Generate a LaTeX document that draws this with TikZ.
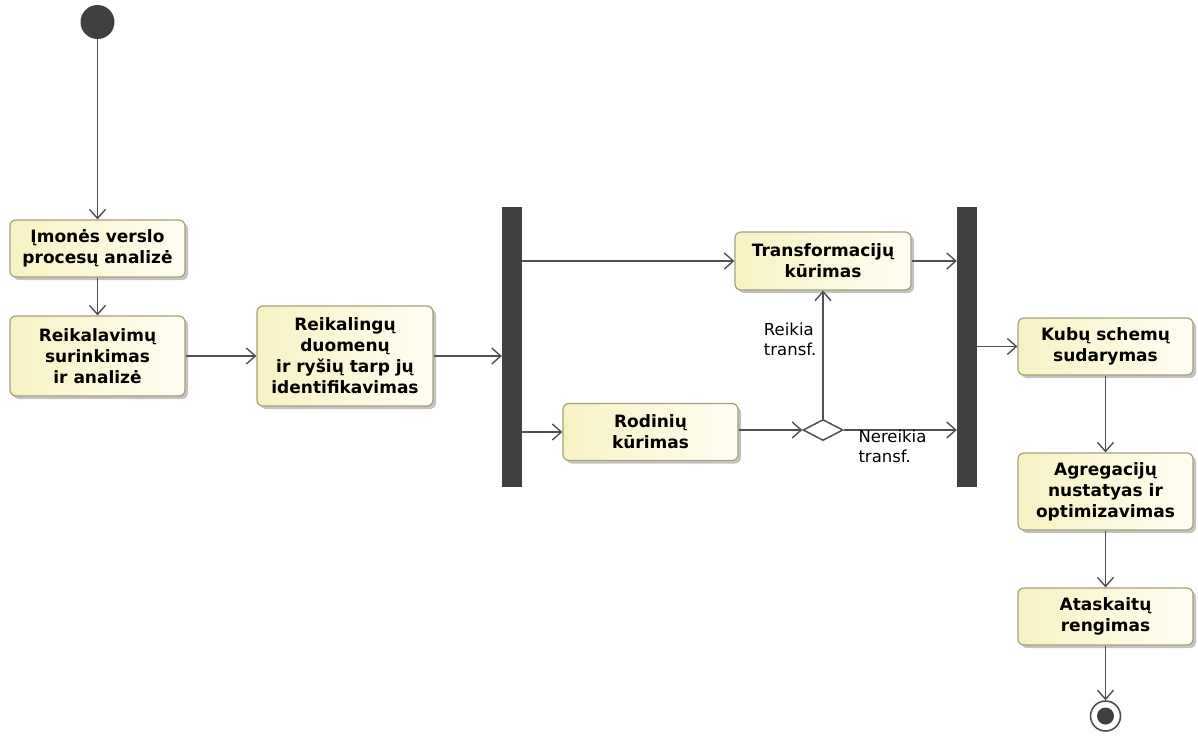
\documentclass[tikz,border=0pt]{standalone}
\usepackage{fontspec}
\setmainfont{DejaVu Sans}
\usetikzlibrary{arrows.meta,shapes.geometric,shadows}
\definecolor{barc}{RGB}{64,64,64}
\definecolor{linec}{RGB}{80,80,80}
\definecolor{boxborder}{RGB}{165,160,122}
\definecolor{boxleft}{RGB}{247,242,194}
\definecolor{boxright}{RGB}{255,253,243}
\definecolor{shadowc}{RGB}{170,170,170}
\tikzset{
  actbox/.style={draw=boxborder, line width=1.2pt, rounded corners=6pt,
    left color=boxleft, right color=boxright, align=center, inner sep=2pt,
    font=\bfseries\fontsize{17}{21}\selectfont,
    drop shadow={shadow xshift=3pt, shadow yshift=-3pt, fill=shadowc, opacity=0.7}},
  forkbar/.style={fill=barc, draw=none, minimum width=20pt, minimum height=280pt, inner sep=0},
  flow/.style={draw=linec, line width=1.5pt, -{Straight Barb[length=9pt,width=16pt,line width=1.4pt]}},
  guard/.style={font=\fontsize{16.5}{20}\selectfont, align=left, inner sep=0, text=black},
}
\begin{document}
\begin{tikzpicture}[x=1pt,y=-1pt]
\useasboundingbox (0,0) rectangle (1198,742);
\node[circle, fill=barc, minimum size=34pt, inner sep=0] (start) at (97.5,22) {};
\node[actbox, minimum width=175pt, minimum height=57pt] (b1) at (97.5,248.5) {Įmonės verslo\\procesų analizė};
\node[actbox, minimum width=175pt, minimum height=80pt] (b2) at (97.5,356) {Reikalavimų\\surinkimas\\ir analizė};
\node[actbox, minimum width=176pt, minimum height=100pt] (b3) at (345,356) {Reikalingų\\duomenų\\ir ryšių tarp jų\\identifikavimas};
\node[forkbar] (bar1) at (512,347) {};
\node[actbox, minimum width=176pt, minimum height=58pt] (tr) at (823,261) {Transformacijų\\kūrimas};
\node[actbox, minimum width=175pt, minimum height=57pt] (rod) at (650.5,432) {Rodinių\\kūrimas};
\node[diamond, draw=linec, fill=white, line width=1.5pt, minimum width=40pt, minimum height=21pt, inner sep=0, aspect=1.9] (dia) at (823,430) {};
\node[forkbar] (bar2) at (967,347) {};
\node[actbox, minimum width=175pt, minimum height=57pt] (kub) at (1105.5,346.5) {Kubų schemų\\sudarymas};
\node[actbox, minimum width=175pt, minimum height=77pt] (agr) at (1105.5,491.5) {Agregacijų\\nustatyas ir\\optimizavimas};
\node[actbox, minimum width=175pt, minimum height=57pt] (ata) at (1105.5,616.5) {Ataskaitų\\rengimas};
\node[circle, draw=linec, fill=white, line width=1.6pt, minimum size=30pt, inner sep=0] (end) at (1105.5,716) {};
\fill[barc] (end.center) circle (8.5);

\draw[flow] (start.south) -- (b1.north);
\draw[flow] (b1.south) -- (b2.north);
\draw[flow] (b2.east) -- (b3.west);
\draw[flow] (b3.east) -- (bar1.west |- b3.east);
\draw[flow] (bar1.east |- tr.west) -- (tr.west);
\draw[flow] (bar1.east |- rod.west) -- (rod.west);
\draw[flow] (rod.east |- dia.west) -- (dia.west);
\draw[flow] (dia.north) -- node[guard, pos=0.62, anchor=east, xshift=-6pt] {Reikia\\transf.} (tr.south);
\draw[flow] (dia.east) -- node[guard, pos=0, anchor=north west, xshift=14pt, yshift=1pt] {Nereikia\\transf.} (bar2.west |- dia.east);
\draw[flow] (tr.east) -- (bar2.west |- tr.east);
\draw[flow] (bar2.east |- kub.west) -- (kub.west);
\draw[flow] (kub.south) -- (agr.north);
\draw[flow] (agr.south) -- (ata.north);
\draw[flow] (ata.south) -- (end.north);
\end{tikzpicture}
\end{document}
